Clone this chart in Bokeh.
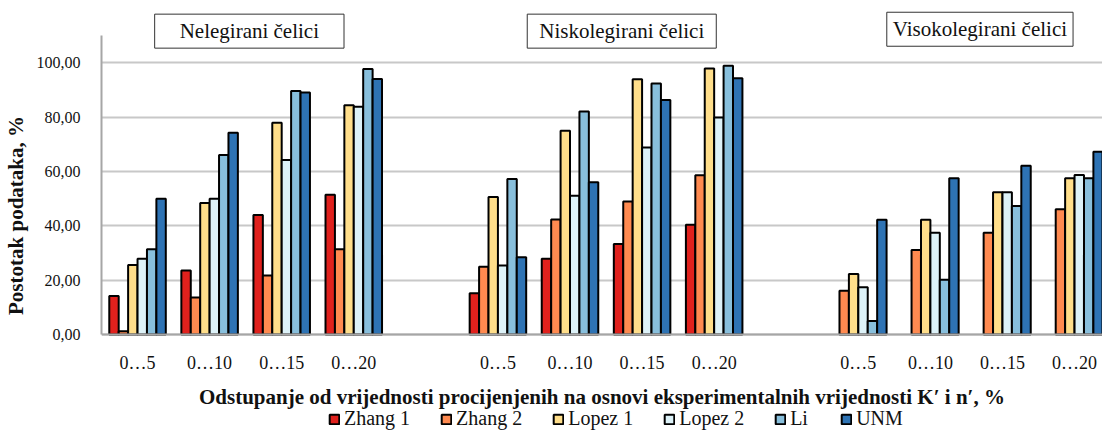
from bokeh.plotting import figure
from bokeh.models import (ColumnDataSource, Range1d, FixedTicker, Label, Legend, LegendItem)
from bokeh.transform import dodge
from bokeh.embed import file_html
from bokeh.resources import INLINE

nan = float("nan")

groups = ["Nelegirani čelici", "Niskolegirani čelici", "Visokolegirani čelici"]
ranges = ["0…5", "0…10", "0…15", "0…20"]
series = ["Zhang 1", "Zhang 2", "Lopez 1", "Lopez 2", "Li", "UNM"]
colors = ["#E0211D", "#FF8A50", "#FFDE8A", "#DDF2F8", "#88BFDC", "#2E73B4"]

zhang1 = [14.2, 23.5, 44.0, 51.4, 15.2, 27.9, 33.3, 40.4, nan, nan, nan, nan]
zhang2 = [1.2, 13.6, 21.7, 31.4, 24.9, 42.3, 48.9, 58.6, 16.1, 31.1, 37.4, 46.1]
lopez1 = [25.6, 48.4, 77.9, 84.3, 50.6, 75.0, 93.9, 97.9, 22.3, 42.2, 52.3, 57.5]
lopez2 = [27.9, 49.9, 64.2, 83.8, 25.4, 51.0, 68.8, 79.8, 17.4, 37.4, 52.3, 58.7]
li = [31.4, 66.0, 89.6, 97.7, 57.2, 82.0, 92.3, 98.9, 5.0, 20.1, 47.3, 57.5]
unm = [49.9, 74.2, 89.0, 94.0, 28.4, 56.0, 86.3, 94.3, 42.2, 57.5, 62.1, 67.2]

y_ticks = [0, 20, 40, 60, 80, 100]
y_tick_labels = ["0,00", "20,00", "40,00", "60,00", "80,00", "100,00"]
y_axis_max = 110

x_title = "Odstupanje od vrijednosti procijenjenih na osnovi eksperimentalnih vrijednosti K′ i n′, %"
y_title = "Postotak podataka, %"

# slot index: one empty slot between groups
slot = [g * (len(ranges) + 1) + c for g in range(len(groups)) for c in range(len(ranges))]
tick_text = ranges * len(groups)

src = ColumnDataSource(dict(slot=slot, zhang1=zhang1, zhang2=zhang2, lopez1=lopez1,
                            lopez2=lopez2, li=li, unm=unm))
keys = ["zhang1", "zhang2", "lopez1", "lopez2", "li", "unm"]

FONT = "Liberation Serif"
W, H = 1102, 430
LEFT = 100
ZERO_Y = 334            # pixel row of value 0
slot_px = 72.15
px_per_unit = 299 / y_axis_max
frame_w = W - LEFT
x_end = -0.5 + frame_w / slot_px

p = figure(width=W, height=H, output_backend="svg", toolbar_location=None,
           x_range=Range1d(-0.5, x_end),
           y_range=Range1d(-(H - ZERO_Y) / px_per_unit, ZERO_Y / px_per_unit),
           min_border_left=LEFT, min_border_right=0, min_border_top=0,
           min_border_bottom=0)
p.outline_line_color = None
p.background_fill_color = "white"

bar_w = 0.1307
renderers = []
for i, (k, c) in enumerate(zip(keys, colors)):
    r = p.vbar(x=dodge("slot", (i - 2.5) * bar_w), top=k, bottom=0, width=bar_w, source=src,
               fill_color=c, line_color="black", line_width=2)
    renderers.append(r)

# axes
xa = p.xaxis[0]
ya = p.yaxis[0]
xa.fixed_location = 0
xa.ticker = FixedTicker(ticks=slot, minor_ticks=[])
xa.major_label_overrides = {s: t for s, t in zip(slot, tick_text)}
ya.ticker = FixedTicker(ticks=y_ticks, minor_ticks=[])
ya.major_label_overrides = {v: t for v, t in zip(y_ticks, y_tick_labels)}
ya.bounds = (0, y_axis_max)
for ax in (xa, ya):
    ax.axis_line_color = "#a6a6a6"
    ax.axis_line_width = 2
    ax.major_tick_line_color = None
    ax.minor_tick_line_color = None
    ax.major_label_text_font = FONT
    ax.major_label_text_color = "#111111"
    ax.axis_label_text_font = FONT
    ax.axis_label_text_font_size = "21px"
    ax.axis_label_text_font_style = "bold"
    ax.axis_label_text_color = "#111111"
xa.major_label_text_font_size = "18px"
ya.major_label_text_font_size = "16px"
xa.major_label_standoff = 12
ya.major_label_standoff = 15

xa.axis_label = x_title
xa.axis_label_standoff = 9
ya.axis_label = y_title
ya.axis_label_standoff = 6

p.xgrid.grid_line_color = None
p.ygrid.grid_line_color = "#c8c8c8"
p.ygrid.grid_line_width = 2

# group title boxes
box_pos = [(1.551, 111.6, 25), (6.718, 111.6, 12), (11.687, 112.3, 6)]
for name, (bx, by, hp) in zip(groups, box_pos):
    p.add_layout(Label(x=bx, y=by, text=name, text_align="center", text_baseline="middle",
                       text_font=FONT, text_font_size="21px", text_color="#111111",
                       background_fill_color="white", border_line_color="#333333",
                       border_line_width=1,
                       padding=dict(left=hp, right=hp, top=5, bottom=5)))

legend = Legend(items=[LegendItem(label=s, renderers=[r]) for s, r in zip(series, renderers)],
                orientation="horizontal", location=(227, 0),
                label_text_font=FONT, label_text_font_size="20px", label_text_color="#111111",
                glyph_width=12, glyph_height=12, label_standoff=4, spacing=30,
                padding=0, margin=0, border_line_color=None, background_fill_alpha=0)
p.add_layout(legend)

open("out.html", "w").write(file_html(p, INLINE))
